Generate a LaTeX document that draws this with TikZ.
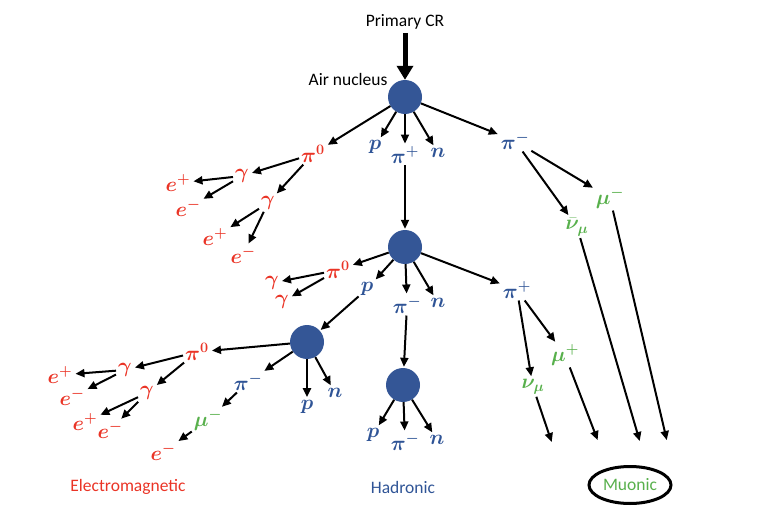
\documentclass[tikz,border=0pt]{standalone}
\usepackage{amsmath}
\usepackage{bm}
\usepackage{fontspec}
\setmainfont{Carlito}
\usetikzlibrary{arrows.meta,shapes.geometric}
\definecolor{emred}{RGB}{234,52,38}
\definecolor{hadblue}{RGB}{47,84,150}
\definecolor{mugreen}{RGB}{88,176,76}
\definecolor{hubblue}{RGB}{52,86,150}

\begin{document}
\begin{tikzpicture}[x=1pt,y=-1pt,
		arr/.style={-{Triangle[length=9pt,width=8pt]},line width=2pt,shorten >=1pt},
		hub/.style={circle,fill=hubblue,minimum size=34pt,inner sep=0pt},
		lbl/.style={inner sep=2pt,font=\fontsize{20}{22}\selectfont},
		em/.style={lbl,text=emred},
		had/.style={lbl,text=hadblue},
		mu/.style={lbl,text=mugreen},
		title/.style={font=\fontsize{17.5}{20}\selectfont}]

	\useasboundingbox (0,0) rectangle (772,516);

	% primary and first interaction
	\node[title] (cr) at (405,22) {Primary CR};
	\node[hub] (h1) at (405,97) {};
	\node[title,anchor=east] (air) at (391,79) {Air nucleus};
	\draw[-{Triangle[length=14pt,width=16pt]},line width=5pt] (cr) -- (h1);

	\node[em] (pa) at (313,154) {$\bm{\pi^{0}}$};
	\node[had] (p1) at (375,147) {$\bm{p}$};
	\node[had] (pp1) at (405,155) {$\bm{\pi^{+}}$};
	\node[had] (n1) at (438,153) {$\bm{n}$};
	\node[had] (pm1) at (515,141) {$\bm{\pi^{-}}$};

	\node[em] (ga) at (242,176) {$\bm{\gamma}$};
	\node[em] (gb) at (268,203) {$\bm{\gamma}$};
	\node[em] (ea1) at (178,183) {$\bm{e^{+}}$};
	\node[em] (ea2) at (188,208) {$\bm{e^{-}}$};
	\node[em] (eb1) at (215,237) {$\bm{e^{+}}$};
	\node[em] (eb2) at (243,255) {$\bm{e^{-}}$};

	\node[mu] (mum1) at (610,198) {$\bm{\mu^{-}}$};
	\node[mu] (nub) at (577,227) {$\bm{\bar{\nu}_{\mu}}$};

	% second interaction
	\node[hub] (h2) at (405,247) {};
	\node[em] (pb) at (338,270) {$\bm{\pi^{0}}$};
	\node[em] (gc) at (272,283) {$\bm{\gamma}$};
	\node[em] (gd) at (282,302) {$\bm{\gamma}$};
	\node[had] (p2) at (367,289) {$\bm{p}$};
	\node[had] (pm2) at (407,305) {$\bm{\pi^{-}}$};
	\node[had] (n2) at (438,303) {$\bm{n}$};
	\node[had] (pp2) at (517,290) {$\bm{\pi^{+}}$};
	\node[mu] (mup) at (565,355) {$\bm{\mu^{+}}$};
	\node[mu] (nu) at (533,387) {$\bm{\nu_{\mu}}$};

	% third interactions
	\node[hub] (h3) at (307,342) {};
	\node[em] (pc) at (197,352) {$\bm{\pi^{0}}$};
	\node[em] (ge) at (125,370) {$\bm{\gamma}$};
	\node[em] (gf) at (147,393) {$\bm{\gamma}$};
	\node[em] (ec1) at (60,375) {$\bm{e^{+}}$};
	\node[em] (ec2) at (72,397) {$\bm{e^{-}}$};
	\node[em] (ed1) at (85,422) {$\bm{e^{+}}$};
	\node[em] (ed2) at (110,430) {$\bm{e^{-}}$};
	\node[had] (pm3) at (248,382) {$\bm{\pi^{-}}$};
	\node[mu] (mum2) at (208,420) {$\bm{\mu^{-}}$};
	\node[em] (ee) at (163,452) {$\bm{e^{-}}$};
	\node[had] (p3) at (307,407) {$\bm{p}$};
	\node[had] (n3) at (335,393) {$\bm{n}$};

	\node[hub] (h4) at (403,385) {};
	\node[had] (p4) at (373,435) {$\bm{p}$};
	\node[had] (pm4) at (405,442) {$\bm{\pi^{-}}$};
	\node[had] (n4) at (437,440) {$\bm{n}$};

	% ground ends
	\coordinate (g1) at (552,443);
	\coordinate (g2) at (598,441);
	\coordinate (g3) at (640,442);
	\coordinate (g4) at (667,441);

	\path[arr]
	(h1) edge (pa) edge (p1) edge (pp1) edge (n1) edge (pm1)
	(pa) edge (ga) edge (gb)
	(ga) edge (ea1) edge (ea2)
	(gb) edge (eb1) edge (eb2)
	(pm1) edge (nub) edge (mum1)
	(pp1) edge (h2)
	(h2) edge (pb) edge (p2) edge (pm2) edge (n2) edge (pp2)
	(pb) edge (gc) edge (gd)
	(pp2) edge (nu) edge (mup)
	(p2) edge (h3)
	(pm2) edge (h4)
	(h3) edge (pc) edge (pm3) edge (p3) edge (n3)
	(pc) edge (ge) edge (gf)
	(ge) edge (ec1) edge (ec2)
	(gf) edge (ed1) edge (ed2)
	(pm3) edge (mum2)
	(mum2) edge (ee)
	(h4) edge (p4) edge (pm4) edge (n4)
	(nu) edge (g1)
	(mup) edge (g2)
	(nub) edge (g3)
	(mum1) edge (g4);

	% shower components
	\node[title,text=emred] (emc) at (128,487) {Electromagnetic};
	\node[title,text=hadblue] (hadc) at (403,487) {Hadronic};
	\node[title,text=mugreen,draw=black,line width=3pt,ellipse,inner sep=2pt,minimum width=80pt,minimum height=37pt] (muc) at (630,485) {Muonic};
\end{tikzpicture}
\end{document}
